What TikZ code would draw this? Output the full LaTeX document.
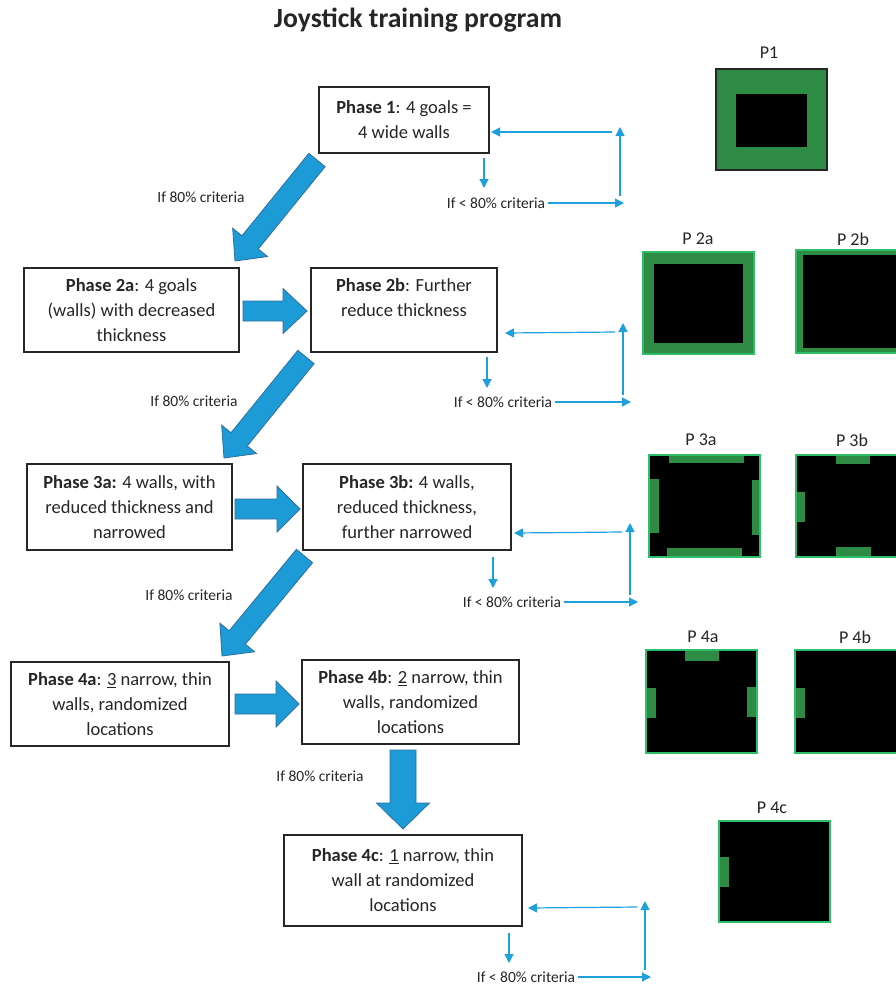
\documentclass[tikz,border=0pt]{standalone}
\usepackage{fontspec}
\setmainfont{Carlito}
\usetikzlibrary{arrows.meta,calc}

\definecolor{arrowfill}{RGB}{29,155,214}
\definecolor{arrowline}{RGB}{46,110,160}
\definecolor{fbblue}{RGB}{30,160,220}
\definecolor{wallgreen}{RGB}{46,139,68}
\definecolor{rimgreen}{RGB}{45,190,105}
\definecolor{inkgray}{RGB}{38,38,38}

% block arrow: #1 tail centre, #2 tip, #3 shaft half width, #4 head half width, #5 head length
\newcommand\blockarrow[5]{%
  \path ($(#2)!#5!(#1)$) coordinate (ba-neck);
  \filldraw[bigarrow] ($(#1)!#3!90:(#2)$) -- ($(ba-neck)!#3!90:(#2)$)
    -- ($(ba-neck)!#4!90:(#2)$) -- (#2) -- ($(ba-neck)!#4!-90:(#2)$)
    -- ($(ba-neck)!#3!-90:(#2)$) -- ($(#1)!#3!-90:(#2)$) -- cycle;}

\tikzset{
  phase/.style={draw=inkgray, line width=1.2pt, text=inkgray, align=center,
    inner sep=0pt, font=\fontsize{18.5}{25}\selectfont},
  note/.style={text=inkgray, font=\fontsize{15.5}{18}\selectfont, inner sep=1pt},
  plabel/.style={text=inkgray, font=\fontsize{18}{21}\selectfont},
  fb/.style={draw=fbblue, line width=1.2pt, -{Triangle[length=9pt,width=9pt]}},
  bigarrow/.style={fill=arrowfill, draw=arrowline, line width=0.8pt, line join=miter},
  rim/.style={draw=rimgreen, line width=1.2pt},
}

\begin{document}
\begin{tikzpicture}[x=1pt,y=-1pt]
\useasboundingbox (0,0) rectangle (896,986);
\clip (0,0) rectangle (896,986);
\fill[white] (0,0) rectangle (896,986);

% title
\node[text=inkgray, font=\fontsize{27.7}{32}\selectfont\bfseries] (title) at (418,20) {Joystick training program};

% phase boxes
\node[phase, minimum width=170, minimum height=66] (ph1) at (404,120)
  {\textbf{Phase 1}: 4 goals =\\4 wide walls};
\node[phase, minimum width=215, minimum height=84] (ph2a) at (131.5,310)
  {\textbf{Phase 2a}: 4 goals\\(walls) with decreased\\thickness};
\node[phase, minimum width=186, minimum height=84] (ph2b) at (404,310)
  {\textbf{Phase 2b}: Further\\reduce thickness\\\mbox{}};
\node[phase, minimum width=205, minimum height=86] (ph3a) at (129.5,507)
  {\textbf{Phase 3a:} 4 walls, with\\reduced thickness and\\narrowed};
\node[phase, minimum width=208, minimum height=86] (ph3b) at (407,507)
  {\textbf{Phase 3b:} 4 walls,\\reduced thickness,\\further narrowed};
\node[phase, minimum width=218, minimum height=84] (ph4a) at (120,704)
  {\textbf{Phase 4a}: \underline{3} narrow, thin\\walls, randomized\\locations};
\node[phase, minimum width=217, minimum height=84] (ph4b) at (410.5,702)
  {\textbf{Phase 4b}: \underline{2} narrow, thin\\walls, randomized\\locations};
\node[phase, minimum width=238, minimum height=91] (ph4c) at (403,880.5)
  {\textbf{Phase 4c}: \underline{1} narrow, thin\\wall at randomized\\locations};

% advance arrows
\coordinate (a1s) at (317,160);  \coordinate (a1t) at (235,261);
\coordinate (a2s) at (243,311);  \coordinate (a2t) at (307,311);
\coordinate (a3s) at (306,357);  \coordinate (a3t) at (224,458);
\coordinate (a4s) at (235,509);  \coordinate (a4t) at (300,509);
\coordinate (a5s) at (304.5,556);  \coordinate (a5t) at (222,656);
\coordinate (a6s) at (235,704);  \coordinate (a6t) at (299,704);
\coordinate (a7s) at (403,750);  \coordinate (a7t) at (403,829);
\blockarrow{a1s}{a1t}{10.5pt}{22.5pt}{24pt}
\blockarrow{a2s}{a2t}{10pt}{22.5pt}{24pt}
\blockarrow{a3s}{a3t}{10.5pt}{22.5pt}{24pt}
\blockarrow{a4s}{a4t}{10pt}{23pt}{23pt}
\blockarrow{a5s}{a5t}{10.5pt}{22.5pt}{24pt}
\blockarrow{a6s}{a6t}{10pt}{23pt}{23pt}
\blockarrow{a7s}{a7t}{13pt}{26.5pt}{26pt}

\node[note] (c1) at (201,197) {If 80\% criteria};
\node[note] (c2) at (194,401) {If 80\% criteria};
\node[note] (c3) at (189,595) {If 80\% criteria};
\node[note] (c4) at (320,776) {If 80\% criteria};

% repeat loops
\node[note] (r1) at (496,203) {If < 80\% criteria};
\coordinate (r1d) at (484,158); \coordinate (r1db) at (484,188);
\coordinate (r1e) at (624,203);
\coordinate (r1u) at (620,196); \coordinate (r1ut) at (620,127);
\coordinate (r1l) at (612,132); \coordinate (r1lt) at (491,132);
\draw[fb] (r1d) -- (r1db);
\draw[fb] (r1.east) ++(2,0) -- (r1e);
\draw[fb] (r1u) -- (r1ut);
\draw[fb] (r1l) -- (r1lt);

\node[note] (r2) at (503,402) {If < 80\% criteria};
\coordinate (r2d) at (487,357); \coordinate (r2db) at (487,388);
\coordinate (r2e) at (631,402);
\coordinate (r2u) at (623,395); \coordinate (r2ut) at (623,323);
\coordinate (r2l) at (615,332); \coordinate (r2lt) at (505,333);
\draw[fb] (r2d) -- (r2db);
\draw[fb] (r2.east) ++(2,0) -- (r2e);
\draw[fb] (r2u) -- (r2ut);
\draw[fb] (r2l) -- (r2lt);

\node[note] (r3) at (512,602) {If < 80\% criteria};
\coordinate (r3d) at (493,557); \coordinate (r3db) at (493,588);
\coordinate (r3e) at (638,602);
\coordinate (r3u) at (630,595); \coordinate (r3ut) at (630,523);
\coordinate (r3l) at (622,532); \coordinate (r3lt) at (514,533);
\draw[fb] (r3d) -- (r3db);
\draw[fb] (r3.east) ++(2,0) -- (r3e);
\draw[fb] (r3u) -- (r3ut);
\draw[fb] (r3l) -- (r3lt);

\node[note] (r4) at (526,977) {If < 80\% criteria};
\coordinate (r4d) at (509,933); \coordinate (r4db) at (509,963);
\coordinate (r4e) at (651,977);
\coordinate (r4u) at (645,970); \coordinate (r4ut) at (645,901);
\coordinate (r4l) at (637,907); \coordinate (r4lt) at (528,908);
\draw[fb] (r4d) -- (r4db);
\draw[fb] (r4.east) ++(2,0) -- (r4e);
\draw[fb] (r4u) -- (r4ut);
\draw[fb] (r4l) -- (r4lt);

% arena sketches
\node[plabel] (p1) at (769,53) {P1};
\fill[wallgreen] (716,69) rectangle (827,170);
\fill[black] (736,94) rectangle (807,147);
\draw[inkgray, line width=1.2pt] (716,69) rectangle (827,170);

\node[plabel] (p2a) at (698,239) {P 2a};
\fill[wallgreen] (643,252) rectangle (754,354);
\fill[black] (654,264) rectangle (743,343);
\draw[rim] (643,252) rectangle (754,354);

\node[plabel] (p2b) at (853,239) {P 2b};
\fill[wallgreen] (796,250) rectangle (910,353);
\fill[black] (803,255) rectangle (910,348);
\draw[rim] (796,250) rectangle (910,353);

\node[plabel] (p3a) at (701,440) {P 3a};
\fill[black] (649,455) rectangle (760,557);
\fill[wallgreen] (669,455) rectangle (744,463);
\fill[wallgreen] (667,548) rectangle (742,557);
\fill[wallgreen] (649,479) rectangle (659,533);
\fill[wallgreen] (752,480) rectangle (760,535);
\draw[rim] (649,455) rectangle (760,557);

\node[plabel] (p3b) at (852,440) {P 3b};
\fill[black] (796,455) rectangle (910,557);
\fill[wallgreen] (836,455) rectangle (870,464);
\fill[wallgreen] (796,492) rectangle (805,522);
\fill[wallgreen] (836,547) rectangle (871,556);
\draw[rim] (796,455) rectangle (910,557);

\node[plabel] (p4a) at (703,637) {P 4a};
\fill[black] (646,650) rectangle (757,753);
\fill[wallgreen] (685,650) rectangle (719,661);
\fill[wallgreen] (646,688) rectangle (656,718);
\fill[wallgreen] (747,687) rectangle (757,717);
\draw[rim] (646,650) rectangle (757,753);

\node[plabel] (p4b) at (855,637) {P 4b};
\fill[black] (795,650) rectangle (910,753);
\fill[wallgreen] (795,688) rectangle (805,718);
\draw[rim] (795,650) rectangle (910,753);

\node[plabel] (p4c) at (772,808) {P 4c};
\fill[black] (719,821) rectangle (830,922);
\fill[wallgreen] (719,857) rectangle (729,887);
\draw[rim] (719,821) rectangle (830,922);
\end{tikzpicture}
\end{document}
